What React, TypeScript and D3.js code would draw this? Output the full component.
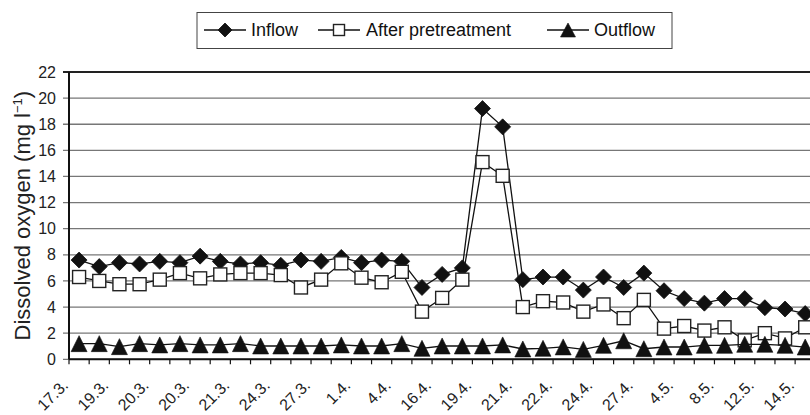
import React from "react";
import * as d3 from "d3";

const tickLabels = ["17.3.", "19.3.", "20.3.", "20.3.", "21.3.", "24.3.", "27.3.", "1.4.", "4.4.", "16.4.", "19.4.", "21.4.", "22.4.", "24.4.", "27.4.", "4.5.", "8.5.", "12.5.", "14.5."];

const inflow = [7.6, 7.1, 7.4, 7.3, 7.5, 7.4, 7.9, 7.5, 7.3, 7.4, 7.2, 7.6, 7.5, 7.8, 7.4, 7.6, 7.5, 5.5, 6.5, 7.0, 19.2, 17.8, 6.1, 6.3, 6.3, 5.3, 6.3, 5.5, 6.6, 5.25, 4.65, 4.3, 4.65, 4.65, 3.95, 3.85, 3.5];
const afterPretreatment = [6.3, 6.0, 5.75, 5.75, 6.1, 6.6, 6.2, 6.5, 6.6, 6.6, 6.45, 5.5, 6.1, 7.35, 6.25, 5.9, 6.7, 3.65, 4.7, 6.1, 15.1, 14.05, 4.0, 4.45, 4.35, 3.65, 4.2, 3.15, 4.55, 2.35, 2.55, 2.2, 2.45, 1.45, 2.0, 1.6, 2.45];
const outflow = [1.2, 1.2, 0.97, 1.2, 1.1, 1.2, 1.1, 1.1, 1.2, 1.02, 1.02, 1.02, 1.02, 1.1, 1.02, 1.02, 1.2, 0.84, 1.02, 1.02, 1.02, 1.1, 0.79, 0.84, 0.95, 0.76, 1.07, 1.42, 0.81, 0.94, 0.94, 1.07, 1.07, 1.15, 1.15, 1.07, 0.94];
const yTicks = [0, 2, 4, 6, 8, 10, 12, 14, 16, 18, 20, 22];

const categories = inflow.map((_, i) => String(i));

const FONT = "'Liberation Sans', Arial, Helvetica, sans-serif";
const W = 810, H = 415;
const left = 69, right = 815.3, top = 72, bottom = 359.3;

const x = d3.scaleBand<string>().domain(categories).range([left, right]).padding(0);
const y = d3.scaleLinear().domain([0, 22]).range([bottom, top]);
const cx = (i: number) => (x(categories[i]) as number) + x.bandwidth() / 2;

function Diamond({ px, py, r = 8 }: { px: number; py: number; r?: number }) {
  return <path d={`M${px},${py - r}L${px + r},${py}L${px},${py + r}L${px - r},${py}Z`} fill="#111" stroke="#111" strokeWidth={0.8} />;
}
function Square({ px, py, s = 13 }: { px: number; py: number; s?: number }) {
  return <rect x={px - s / 2} y={py - s / 2} width={s} height={s} fill="#fff" stroke="#222" strokeWidth={1.4} />;
}
function Triangle({ px, py, w = 16, h = 16 }: { px: number; py: number; w?: number; h?: number }) {
  return <path d={`M${px},${py - h / 2}L${px + w / 2},${py + h / 2}L${px - w / 2},${py + h / 2}Z`} fill="#111" stroke="#111" strokeWidth={0.6} />;
}

export default function App() {
  const line = d3.line<number>().x((_, i) => cx(i)).y((d) => y(d));
  return (
    <svg width={W} height={H} style={{ position: "fixed", left: 0, top: 0, background: "#fff" }} fontFamily={FONT}>
      <rect width={W} height={H} fill="#fff" />
      {/* legend */}
      <g>
        <rect x={197} y={12.5} width={475} height={36} fill="#fff" stroke="#444" strokeWidth={1} />
        <line x1={204} x2={246} y1={30} y2={30} stroke="#111" strokeWidth={1.4} />
        <Diamond px={225} py={30} r={7} />
        <text x={251} y={36} fontSize={18} fill="#111">Inflow</text>
        <line x1={318} x2={360} y1={30} y2={30} stroke="#111" strokeWidth={1.4} />
        <Square px={339} py={30} s={11} />
        <text x={366} y={36} fontSize={18} fill="#111">After pretreatment</text>
        <line x1={547} x2={589} y1={30} y2={30} stroke="#111" strokeWidth={1.4} />
        <Triangle px={568} py={30} w={15} h={14} />
        <text x={594} y={36} fontSize={18} fill="#111">Outflow</text>
      </g>
      {/* gridlines */}
      {yTicks.map((t) => (
        <g key={t}>
          <line x1={left - 6} x2={right} y1={y(t)} y2={y(t)} stroke={t === 22 ? "#222" : "#777"} strokeWidth={t === 22 ? 1.8 : 1.3} />
          <text x={56} y={y(t)} dy="0.35em" textAnchor="end" fontSize={16} fill="#222">{t}</text>
        </g>
      ))}
      {/* axes */}
      <line x1={left} x2={left} y1={top} y2={bottom} stroke="#111" strokeWidth={2} />
      <line x1={left} x2={right} y1={bottom} y2={bottom} stroke="#111" strokeWidth={2} />
      {d3.range(categories.length + 1).map((i) => {
        const bx = left + i * x.bandwidth();
        return <line key={i} x1={bx} x2={bx} y1={bottom} y2={bottom + 5} stroke="#111" strokeWidth={1.2} />;
      })}
      {tickLabels.map((lab, k) => {
        const px = cx(k * 2) - 10;
        const py = bottom + 27;
        return (
          <text key={k} transform={`translate(${px},${py}) rotate(-45)`} textAnchor="end" fontSize={16} fill="#222">{lab}</text>
        );
      })}
      {/* y title */}
      <text transform={`translate(30,${(top + bottom) / 2}) rotate(-90)`} textAnchor="middle" fontSize={22} fill="#222">
        Dissolved oxygen (mg l<tspan dy={-8} fontSize={13}>−1</tspan><tspan dy={8}>)</tspan>
      </text>
      {/* series */}
      <path d={line(inflow) || ""} fill="none" stroke="#111" strokeWidth={1.3} />
      {inflow.map((v, i) => <Diamond key={i} px={cx(i)} py={y(v)} />)}
      <path d={line(afterPretreatment) || ""} fill="none" stroke="#111" strokeWidth={1.3} />
      {afterPretreatment.map((v, i) => <Square key={i} px={cx(i)} py={y(v)} />)}
      <path d={line(outflow) || ""} fill="none" stroke="#111" strokeWidth={1.3} />
      {outflow.map((v, i) => <Triangle key={i} px={cx(i)} py={y(v)} />)}
    </svg>
  );
}
